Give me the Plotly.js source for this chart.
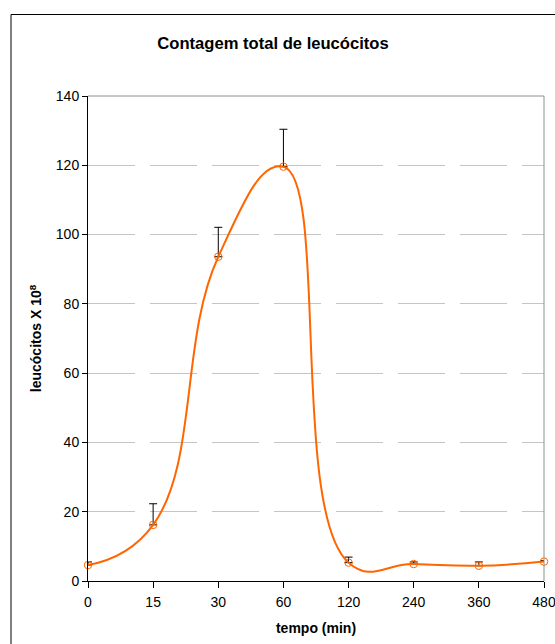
<!DOCTYPE html>
<html>
<head>
<meta charset="utf-8">
<script src="https://cdn.plot.ly/plotly-3.0.1.min.js"></script>
<style>
html,body{margin:0;padding:0;background:#fff;overflow:hidden;}
#chart{width:555px;height:644px;}
</style>
</head>
<body>
<div id="chart"></div>
<script>
const categories = ["0", "15", "30", "60", "120", "240", "360", "480"];
const leucocitos = [4.6, 16.2, 93.6, 119.6, 5.3, 4.9, 4.4, 5.6];
const erroSuperior = [0.9, 6.1, 8.5, 10.8, 1.6, 0.6, 1.1, 0.3];
const yTicks = [0, 20, 40, 60, 80, 100, 120, 140];

const W = 555, H = 644;
const L = 88, R = 544, T = 96, B = 581;
const px = v => (v - L) / (R - L);
const py = v => (B - v) / (B - T);

const trace = {
  x: categories,
  y: leucocitos,
  type: 'scatter',
  mode: 'lines+markers',
  line: {color: '#FF6600', width: 2, shape: 'spline', smoothing: 1.3},
  marker: {symbol: 'circle-open', size: 7.5, color: '#FF6600', line: {width: 1, color: '#FF6600'}},
  error_y: {type: 'data', symmetric: false, array: erroSuperior, arrayminus: erroSuperior.map(() => 0),
            color: '#000000', thickness: 1, width: 4},
  cliponaxis: false,
  showlegend: false
};

const layout = {
  width: W, height: H,
  margin: {l: L, r: W - R, t: T, b: H - B, pad: 0},
  paper_bgcolor: '#ffffff',
  plot_bgcolor: '#ffffff',
  font: {family: 'Liberation Sans, Arial, sans-serif', color: '#000', size: 14},
  title: {text: '<b>Contagem total de leucócitos</b>', font: {size: 16.6, color: '#000'},
          x: px(273), xref: 'paper', xanchor: 'center', y: 1 - 43 / H, yref: 'container', yanchor: 'middle'},
  xaxis: {
    type: 'category', range: [0, 7], showgrid: false, zeroline: false,
    showline: true, linecolor: '#000', linewidth: 1,
    ticks: 'outside', ticklen: 6, tickcolor: '#000', tickwidth: 1,
    tickfont: {size: 14}, ticklabelstandoff: 2,
    title: {text: '<b>tempo (min)</b>', font: {size: 14}, standoff: 14}
  },
  xaxis2: {
    overlaying: 'x', anchor: 'y', side: 'bottom', range: [0, 7], tickvals: [0,1,2,3,4,5,6,7],
    ticks: 'inside', ticklen: 5, tickcolor: '#000', showticklabels: false, showgrid: false,
    zeroline: false, showline: false
  },
  yaxis: {
    range: [0, 140], tickvals: yTicks, ticktext: yTicks.map(String),
    showgrid: true, gridcolor: '#c4c4c4', gridwidth: 1, griddash: '47px,15px',
    zeroline: false, showline: true, linecolor: '#000', linewidth: 1,
    ticks: 'outside', ticklen: 5, tickcolor: '#000', tickwidth: 1,
    tickfont: {size: 14},
    title: {text: '<b>leucócitos X 10<sup>8</sup></b>', font: {size: 14}, standoff: 10}
  },
  yaxis2: {
    overlaying: 'y', anchor: 'x', side: 'left', range: [0, 140], tickvals: yTicks,
    ticks: 'inside', ticklen: 4, tickcolor: '#000', showticklabels: false, showgrid: false,
    zeroline: false, showline: false
  },
  shapes: [
    {type: 'rect', xref: 'paper', yref: 'paper', x0: px(11), x1: px(570), y0: py(660), y1: py(14.5),
     line: {color: '#000', width: 1}, fillcolor: 'rgba(0,0,0,0)', layer: 'below'},
    {type: 'line', xref: 'paper', yref: 'paper', x0: 0, x1: 1, y0: 1, y1: 1, line: {color: '#909090', width: 1}},
    {type: 'line', xref: 'paper', yref: 'paper', x0: 1, x1: 1, y0: 0, y1: 1, line: {color: '#909090', width: 1}}
  ]
};

Plotly.newPlot('chart', [trace], layout, {displayModeBar: false, staticPlot: true});
</script>
</body>
</html>
